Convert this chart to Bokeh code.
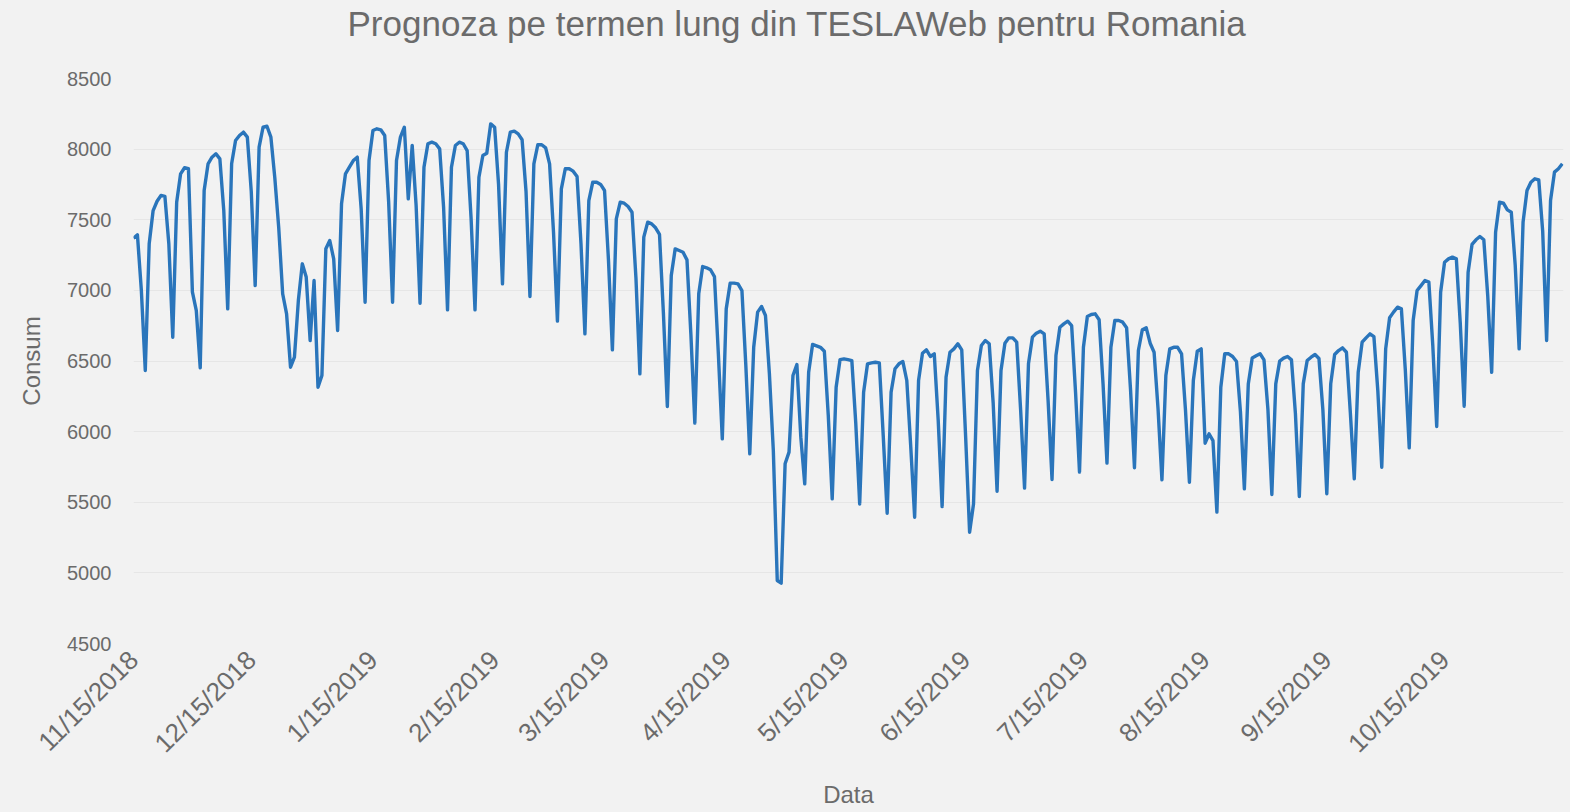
import math
import pandas as pd
from bokeh.plotting import figure
from bokeh.models import FixedTicker, Range1d, ColumnDataSource, Title
from bokeh.embed import file_html
from bokeh.resources import INLINE

# ---- data -------------------------------------------------------------
start_date = "2018-11-15"
consum = [
    7369, 7393, 7000, 6433,
    7330, 7565, 7631, 7672, 7665, 7330, 6668,
    7624, 7825, 7868, 7861, 6990, 6857, 6452,
    7707, 7896, 7943, 7967, 7931, 7565, 6869,
    7896, 8061, 8096, 8120, 8085, 7700, 7034,
    8014, 8155, 8162, 8085, 7797, 7443, 6976,
    6834, 6456, 6527, 6928, 7188, 7094, 6645,
    7070, 6314, 6397, 7294, 7353, 7223, 6716,
    7613, 7825, 7872, 7919, 7943, 7577, 6916,
    7919, 8132, 8144, 8137, 8096, 7627, 6916,
    7919, 8085, 8155, 7648, 8026, 7600, 6909,
    7872, 8038, 8049, 8038, 8002, 7587, 6862,
    7872, 8026, 8049, 8038, 7990, 7511, 6862,
    7801, 7955, 7971, 8179, 8155, 7750, 7046,
    7978, 8120, 8127, 8108, 8066, 7700, 6957,
    7896, 8031, 8031, 8009, 7896, 7412, 6782,
    7719, 7861, 7861, 7844, 7806, 7330, 6692,
    7636, 7766, 7766, 7750, 7707, 7216, 6579,
    7506, 7624, 7617, 7594, 7553, 7089, 6409,
    7377, 7483, 7471, 7443, 7396, 6836, 6178,
    7105, 7294, 7282, 7270, 7216, 6687, 6060,
    6976, 7169, 7160, 7146, 7098, 6548, 5949,
    6869, 7051, 7051, 7046, 6999, 6466, 5843,
    6597, 6846, 6886, 6822, 6409, 5866, 4946,
    4927, 5772, 5855, 6397, 6475, 5961, 5630,
    6420, 6617, 6607, 6597, 6569, 6114, 5524,
    6314, 6510, 6515, 6510, 6503, 6060, 5488,
    6279, 6480, 6487, 6491, 6487, 5970, 5422,
    6279, 6445, 6480, 6496, 6362, 5897, 5394,
    6362, 6555, 6579, 6532, 6551, 6081, 5469,
    6385, 6562, 6586, 6622, 6579, 5958, 5288,
    5488, 6433, 6610, 6645, 6622, 6206, 5578,
    6433, 6626, 6664, 6664, 6633, 6154, 5600,
    6480, 6669, 6697, 6711, 6692, 6220, 5661,
    6539, 6739, 6763, 6782, 6751, 6275, 5713,
    6597, 6815, 6829, 6834, 6792, 6336, 5777,
    6597, 6787, 6787, 6775, 6735, 6298, 5744,
    6574, 6721, 6735, 6626, 6562, 6164, 5659,
    6397, 6586, 6597, 6597, 6551, 6152, 5642,
    6362, 6569, 6586, 5918, 5984, 5937, 5430,
    6314, 6551, 6551, 6532, 6496, 6140, 5595,
    6338, 6522, 6537, 6551, 6508, 6157, 5555,
    6338, 6499, 6520, 6532, 6508, 6130, 5541,
    6338, 6503, 6527, 6546, 6518, 6154, 5560,
    6338, 6546, 6574, 6593, 6562, 6133, 5666,
    6421, 6633, 6664, 6692, 6673, 6289, 5748,
    6586, 6806, 6846, 6881, 6869, 6437, 5885,
    6787, 6999, 7034, 7070, 7058, 6610, 6036,
    6987, 7199, 7223, 7235, 7223, 6768, 6180,
    7129, 7325, 7358, 7381, 7358, 6961, 6420,
    7412, 7624, 7617, 7570, 7553, 7178, 6586,
    7483, 7707, 7766, 7790, 7783, 7417, 6645,
    7636, 7837, 7861, 7896,
]
tick_dates = ["2018-11-15", "2018-12-15", "2019-01-15", "2019-02-15",
              "2019-03-15", "2019-04-15", "2019-05-15", "2019-06-15",
              "2019-07-15", "2019-08-15", "2019-09-15", "2019-10-15"]
tick_labels = ["11/15/2018", "12/15/2018", "1/15/2019", "2/15/2019",
               "3/15/2019", "4/15/2019", "5/15/2019", "6/15/2019",
               "7/15/2019", "8/15/2019", "9/15/2019", "10/15/2019"]
y_ticks = [4500, 5000, 5500, 6000, 6500, 7000, 7500, 8000, 8500]

# ---- build ------------------------------------------------------------
dates = pd.date_range(start_date, periods=len(consum), freq="D")
src = ColumnDataSource(dict(date=dates, consum=consum))

def ms(d):
    return int(pd.Timestamp(d).value // 10**6)

x_start = ms(dates[0])
x_end = ms(dates[-1]) + int(0.3 * 86400000)
tick_ms = [ms(d) for d in tick_dates]

FONT = "Liberation Sans"
TXT = "#6b6b6b"
BG = "#f2f2f2"

p = figure(width=1570, height=812, x_axis_type="datetime",
           output_backend="svg", toolbar_location=None,
           title="Prognoza pe termen lung din TESLAWeb pentru Romania",
           x_range=Range1d(x_start, x_end), y_range=Range1d(4500, 8500),
           min_border_left=133, min_border_right=7,
           min_border_top=78, min_border_bottom=169)

p.background_fill_color = BG
p.border_fill_color = BG
p.outline_line_color = None

p.title.text_font = FONT
p.title.text_font_size = "35px"
p.title.text_font_style = "normal"
p.title.text_color = TXT
p.title.align = "left"
p.title.offset = 214
p.title.standoff = 3

# empty spacer between the title and the plot area
p.add_layout(Title(text=" ", text_font_size="10px", standoff=21,
                   background_fill_color=None), "above")

p.line(x="date", y="consum", source=src, line_color="#2a75bb",
       line_width=3.4, line_join="round")

p.xgrid.visible = False
p.ygrid.grid_line_color = "#e6e6e6"
p.ygrid.grid_line_width = 1

p.yaxis.ticker = FixedTicker(ticks=y_ticks)
p.xaxis.ticker = FixedTicker(ticks=tick_ms)
p.xaxis.major_label_overrides = {t: l for t, l in zip(tick_ms, tick_labels)}
p.xaxis.major_label_orientation = math.pi / 4

for ax in (p.xaxis[0], p.yaxis[0]):
    ax.axis_line_color = None
    ax.major_tick_line_color = None
    ax.minor_tick_line_color = None
    ax.major_tick_out = 0
    ax.major_tick_in = 0
    ax.minor_tick_out = 0
    ax.major_label_text_font = FONT
    ax.major_label_text_color = TXT
    ax.axis_label_text_font = FONT
    ax.axis_label_text_font_size = "24px"
    ax.axis_label_text_font_style = "normal"
    ax.axis_label_text_color = TXT

p.yaxis.major_label_text_font_size = "20px"
p.xaxis.major_label_text_font_size = "26px"
p.yaxis.axis_label = "Consum"
p.yaxis.major_label_standoff = 22
p.yaxis.axis_label_standoff = 19
p.xaxis.axis_label = "Data"
p.xaxis.major_label_standoff = 12
p.xaxis.axis_label_standoff = 9

try:
    from bokeh.models import GlobalInlineStyleSheet
    p.stylesheets = [GlobalInlineStyleSheet(css="body{background:#f2f2f2;}")]
except Exception:
    pass

open("out.html", "w").write(file_html(p, INLINE))
